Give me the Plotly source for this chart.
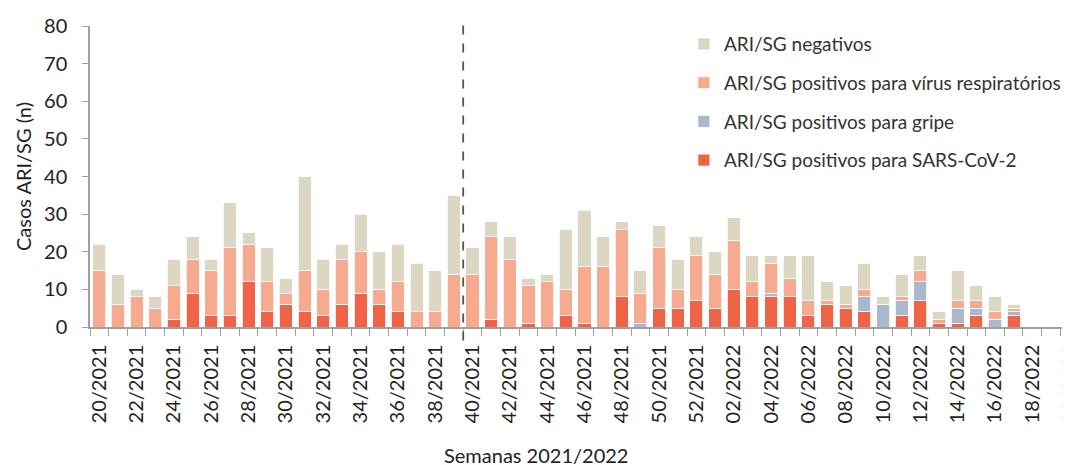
import plotly.graph_objects as go

weeks = [f"{w}/2021" for w in range(20, 53)] + [f"{w:02d}/2022" for w in range(1, 21)]

sars = [0, 0, 0, 0, 2, 9, 3, 3, 12, 4, 6, 4, 3, 6, 9, 6, 4, 0, 0, 0,
        0, 2, 0, 1, 0, 3, 1, 0, 8, 0, 5, 5, 7,
        5, 10, 8, 8, 8, 3, 6, 5, 4, 0, 3, 7, 1, 1, 3, 0, 3, 0, 0, 0]
gripe = [0, 0, 0, 0, 0, 0, 0, 0, 0, 0, 0, 0, 0, 0, 0, 0, 0, 0, 0, 0,
         0, 0, 0, 0, 0, 0, 0, 0, 0, 1, 0, 0, 0,
         0, 0, 0, 1, 0, 0, 0, 0, 4, 6, 4, 5, 0, 4, 2, 2, 1, 0, 0, 0]
resp = [15, 6, 8, 5, 9, 9, 12, 18, 10, 8, 3, 11, 7, 12, 11, 4, 8, 4, 4, 14,
        14, 22, 18, 10, 12, 7, 15, 16, 18, 8, 16, 5, 12,
        9, 13, 4, 8, 5, 4, 1, 1, 2, 0, 1, 3, 1, 2, 2, 2, 1, 0, 0, 0]
neg = [7, 8, 2, 3, 7, 6, 3, 12, 3, 9, 4, 25, 8, 4, 10, 10, 10, 13, 11, 21,
       7, 4, 6, 2, 2, 16, 15, 8, 2, 6, 6, 8, 5,
       6, 6, 7, 2, 6, 12, 5, 5, 7, 2, 6, 4, 2, 8, 4, 4, 1, 0, 0, 0]

# stacking order bottom -> top, with legend rank (top of legend = 1)
series = [
    ("ARI/SG positivos para SARS-CoV-2", sars, "#EF6446", 4),
    ("ARI/SG positivos para gripe", gripe, "#A9B8CC", 3),
    ("ARI/SG positivos para vírus respiratórios", resp, "#F6AA90", 2),
    ("ARI/SG negativos", neg, "#DCD7C3", 1),
]

tick_text = [w if i % 2 == 0 else "" for i, w in enumerate(weeks)]
split_index = weeks.index("40/2021") - 0.5

fig = go.Figure()
for name, vals, color, rank in series:
    fig.add_trace(go.Bar(
        x=weeks, y=vals, name=name, legendgroup=name, legendrank=rank,
        marker=dict(color=color, line=dict(color="white", width=0.8)),
    ))

font = "Lato, 'Open Sans', sans-serif"
fig.update_layout(
    width=1062, height=465,
    barmode="stack", bargap=0.3,
    margin=dict(l=82, r=0, t=18, b=146, autoexpand=False),
    plot_bgcolor="white", paper_bgcolor="white",
    font=dict(family=font, size=20, color="#333333"),
    showlegend=True,
    legend=dict(
        x=0.606, y=1.003, xanchor="left", yanchor="top",
        traceorder="grouped", tracegroupgap=11,
        font=dict(size=19, color="#333333"), bgcolor="rgba(0,0,0,0)",
    ),
    xaxis=dict(
        type="category", range=[-0.5, 52.02], automargin=False,
        tickmode="array", tickvals=weeks, ticktext=tick_text,
        tickangle=-90, tickson="boundaries", ticks="outside", ticklen=7,
        ticklabelstandoff=8,
        tickcolor="#A0A0A0", showline=True, linecolor="#A0A0A0", linewidth=1.5,
        showgrid=False, tickfont=dict(size=20, color="#222222"),
    ),
    yaxis=dict(
        range=[0, 80], dtick=10, ticks="outside", ticklen=6, automargin=False,
        ticklabelstandoff=11,
        tickcolor="#A0A0A0", showline=True, linecolor="#A0A0A0", linewidth=1.5,
        showgrid=False, zeroline=False, tickfont=dict(size=20, color="#222222"),
        title=dict(text="Casos ARI/SG (n)", font=dict(size=20, color="#222222"), standoff=7),
    ),
    shapes=[dict(
        type="line", xref="x", yref="paper",
        x0=split_index, x1=split_index, y0=-0.045, y1=1.02,
        line=dict(color="#555555", width=1.8, dash="dash"),
    )],
    annotations=[dict(
        text="Semanas 2021/2022", xref="paper", yref="paper",
        x=(536 - 90) / 980, y=-(455 - 327) / 301, xanchor="center", yanchor="middle",
        showarrow=False, font=dict(size=20, color="#222222"),
    )],
)

fig.write_html("out.html")
